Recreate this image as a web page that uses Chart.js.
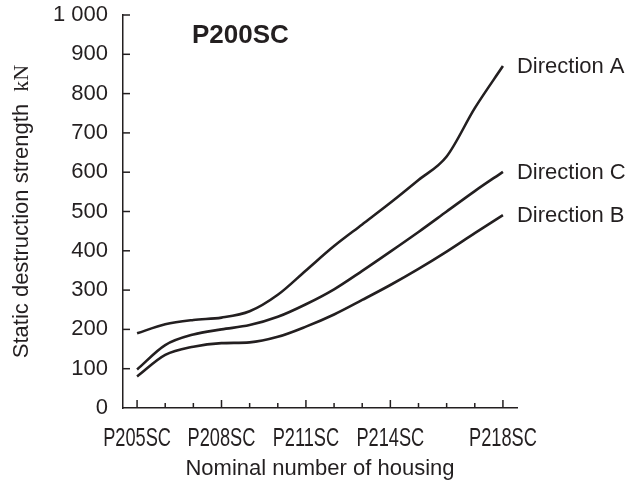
<!DOCTYPE html>
<html>
<head>
<meta charset="utf-8">
<script src="https://cdn.jsdelivr.net/npm/chart.js@4.4.0/dist/chart.umd.min.js"></script>
<style>
  html, body { margin: 0; padding: 0; background: #fff; }
  #wrap { width: 630px; height: 485px; }
</style>
</head>
<body>
<div id="wrap"><canvas id="chart"></canvas></div>
<script>
// housing sizes along the x axis
const housings = ['P205SC', 'P206SC', 'P207SC', 'P208SC', 'P209SC', 'P210SC', 'P211SC',
  'P212SC', 'P213SC', 'P214SC', 'P215SC', 'P216SC', 'P217SC', 'P218SC'];
const shownHousings = ['P205SC', 'P208SC', 'P211SC', 'P214SC', 'P218SC'];

// static destruction strength, kN
const directionA = [190, 213, 224, 230, 246, 288, 350, 412, 467, 522, 580, 640, 763, 870];
const directionC = [98, 160, 187, 200, 211, 232, 264, 302, 349, 398, 448, 500, 552, 601];
const directionB = [80, 135, 156, 165, 167, 181, 207, 238, 275, 313, 354, 398, 445, 491];

const seriesNames = ['Direction A', 'Direction C', 'Direction B'];
const yTicks = [0, 100, 200, 300, 400, 500, 600, 700, 800, 900, 1000];

const ink = '#231f20';
const sans = '"Liberation Sans", Arial, sans-serif';
const serif = '"Liberation Serif", "Times New Roman", serif';

function makeLine(label, data) {
  return {
    label: label,
    data: data,
    borderColor: ink,
    borderWidth: 2.6,
    pointRadius: 0,
    fill: false,
    cubicInterpolationMode: 'monotone'
  };
}

// inward tick marks, condensed x labels, series labels, inner title and y title
const decorations = {
  id: 'decorations',
  afterDatasetsDraw(chart) {
    const ctx = chart.ctx;
    const x = chart.scales.x;
    const y = chart.scales.y;
    const area = chart.chartArea;

    ctx.save();
    ctx.strokeStyle = ink;
    ctx.lineWidth = 1.5;
    housings.forEach((h, i) => {
      const px = x.getPixelForValue(i);
      const len = shownHousings.includes(h) ? 8 : 5;
      ctx.beginPath();
      ctx.moveTo(px, area.bottom);
      ctx.lineTo(px, area.bottom - len);
      ctx.stroke();
    });
    yTicks.forEach(v => {
      if (v === 0) return;
      const py = y.getPixelForValue(v);
      ctx.beginPath();
      ctx.moveTo(area.left, py);
      ctx.lineTo(area.left + 7, py);
      ctx.stroke();
    });

    ctx.fillStyle = ink;

    // condensed housing labels under the axis
    ctx.font = '26px ' + sans;
    ctx.textAlign = 'center';
    ctx.textBaseline = 'middle';
    housings.forEach((h, i) => {
      if (!shownHousings.includes(h)) return;
      const px = x.getPixelForValue(i);
      ctx.save();
      ctx.translate(px, area.bottom + 31);
      ctx.scale(0.7, 1);
      ctx.fillText(h, 0, 0);
      ctx.restore();
    });

    // series names at line ends
    ctx.font = '22px ' + sans;
    ctx.textAlign = 'left';
    chart.data.datasets.forEach((ds, i) => {
      const pts = chart.getDatasetMeta(i).data;
      const last = pts[pts.length - 1];
      ctx.fillText(ds.label, last.x + 14, last.y + 1);
    });

    // inner title
    ctx.font = 'bold 26px ' + sans;
    ctx.fillText('P200SC', area.left + 69, 36);

    // y axis title, unit in serif
    const part1 = 'Static destruction strength  ';
    const part2 = 'kN';
    ctx.translate(22, (area.top + area.bottom) / 2);
    ctx.rotate(-Math.PI / 2);
    ctx.font = '22px ' + sans;
    const w1 = ctx.measureText(part1).width;
    ctx.font = '22px ' + serif;
    const w2 = ctx.measureText(part2).width;
    const start = -(w1 + w2) / 2;
    ctx.font = '22px ' + sans;
    ctx.fillText(part1, start, 0);
    ctx.font = '22px ' + serif;
    ctx.fillText(part2, start + w1, 0);
    ctx.restore();
  }
};

const chart = new Chart(document.getElementById('chart'), {
  type: 'line',
  data: {
    labels: housings,
    datasets: [
      makeLine(seriesNames[0], directionA),
      makeLine(seriesNames[1], directionC),
      makeLine(seriesNames[2], directionB)
    ]
  },
  options: {
    responsive: true,
    maintainAspectRatio: false,
    animation: false,
    layout: { padding: { left: 0, top: 15, right: 113, bottom: 0 } },
    plugins: {
      legend: { display: false },
      tooltip: { enabled: false }
    },
    scales: {
      x: {
        type: 'category',
        offset: true,
        grid: { display: false, drawTicks: false },
        border: { display: true, color: ink, width: 1.5 },
        ticks: {
          autoSkip: false,
          maxRotation: 0,
          font: { family: sans, size: 22 },
          callback: () => ''
        },
        title: {
          display: true,
          text: 'Nominal number of housing',
          color: ink,
          font: { family: sans, size: 22 },
          padding: { top: 0, bottom: 3 }
        },
        afterFit: s => { s.height = 77; s.paddingLeft = 0; s.paddingRight = 0; }
      },
      y: {
        min: 0,
        max: 1000,
        grid: { display: false, drawTicks: false },
        border: { display: true, color: ink, width: 1.5 },
        afterBuildTicks: s => { s.ticks = yTicks.map(v => ({ value: v })); },
        ticks: {
          padding: 15,
          color: ink,
          font: { family: sans, size: 22 },
          callback: v => v === 1000 ? '1 000' : String(v)
        },
        afterFit: s => { s.width = 123; s.paddingTop = 0; s.paddingBottom = 0; }
      }
    }
  },
  plugins: [decorations]
});
</script>
</body>
</html>
